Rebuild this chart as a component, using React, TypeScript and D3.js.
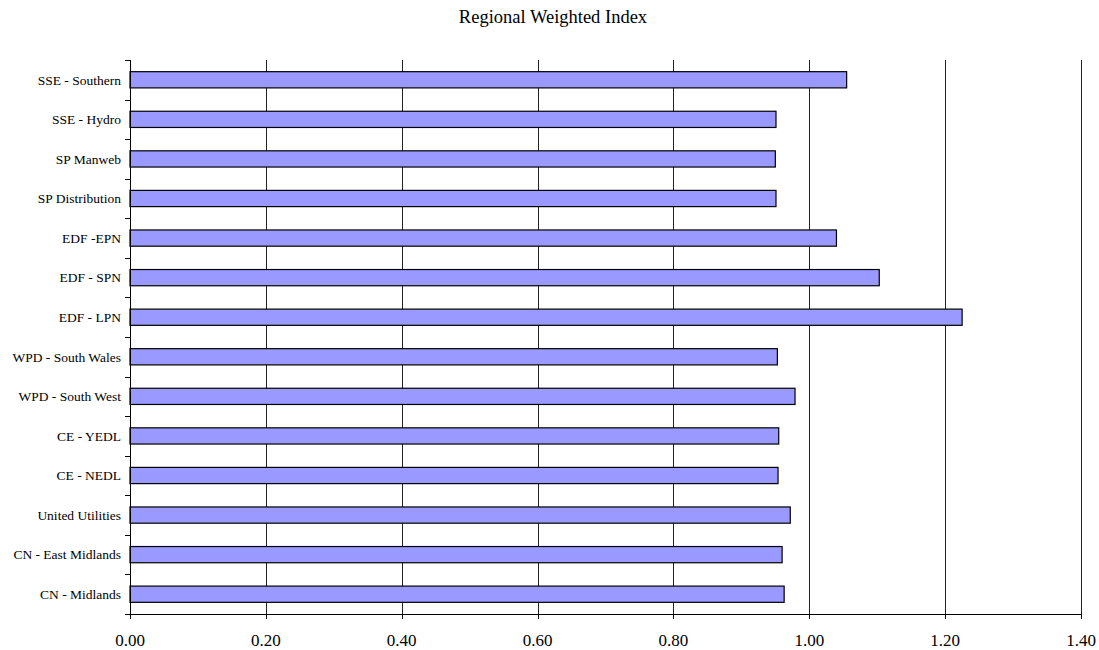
import React from "react";
import * as d3 from "d3";

const categories = [
  "SSE - Southern",
  "SSE - Hydro",
  "SP Manweb",
  "SP Distribution",
  "EDF -EPN",
  "EDF - SPN",
  "EDF - LPN",
  "WPD - South Wales",
  "WPD - South West",
  "CE - YEDL",
  "CE - NEDL",
  "United Utilities",
  "CN - East Midlands",
  "CN - Midlands",
];
const values = [1.055, 0.951, 0.95, 0.951, 1.04, 1.103, 1.225, 0.953, 0.979, 0.955, 0.954, 0.972, 0.96, 0.963];
const xTicks = [0, 0.2, 0.4, 0.6, 0.8, 1.0, 1.2, 1.4];
const title = "Regional Weighted Index";

export default function App() {
  const W = 1099, H = 650;
  const left = 130, right = 1081, top = 60, bottom = 614;
  const x = d3.scaleLinear().domain([0, 1.4]).range([left, right]);
  const y = d3.scaleBand().domain(categories).range([top, bottom]).paddingInner(0).paddingOuter(0);
  const bw = y.bandwidth();
  const barH = bw * 0.41;
  const font = "'Liberation Serif', 'DejaVu Serif', serif";
  const boundaries = d3.range(categories.length + 1).map((i) => top + i * bw);
  return (
    <svg width={W} height={H} style={{ position: "absolute", left: 0, top: 0, background: "#fff" }} fontFamily={font}>
      <text x={553} y={23} textAnchor="middle" fontSize={18.5} fill="#000">{title}</text>
      {xTicks.slice(1).map((t) => (
        <line key={"g" + t} x1={Math.round(x(t)) + 0.5} x2={Math.round(x(t)) + 0.5} y1={top} y2={bottom} stroke="#222" strokeWidth={1} />
      ))}
      {categories.map((c, i) => (
        <rect key={c} x={x(0)} y={(y(c) as number) + bw / 2 - barH / 2} width={x(values[i]) - x(0)} height={barH}
          fill="#9999FF" stroke="#000" strokeWidth={1.2} />
      ))}
      <line x1={left + 0.5} x2={left + 0.5} y1={top} y2={bottom + 5} stroke="#000" strokeWidth={1} />
      <line x1={left} x2={right + 0.5} y1={bottom + 0.5} y2={bottom + 0.5} stroke="#000" strokeWidth={1} />
      {boundaries.map((b, i) => (
        <line key={"yt" + i} x1={left - 5} x2={left} y1={Math.round(b) + 0.5} y2={Math.round(b) + 0.5} stroke="#000" />
      ))}
      {xTicks.map((t) => (
        <line key={"xt" + t} x1={Math.round(x(t)) + 0.5} x2={Math.round(x(t)) + 0.5} y1={bottom} y2={bottom + 5} stroke="#000" />
      ))}
      {categories.map((c) => (
        <text key={"l" + c} x={left - 9} y={(y(c) as number) + bw / 2} dy="0.35em" textAnchor="end" fontSize={13.5} fill="#000">{c}</text>
      ))}
      {xTicks.map((t) => (
        <text key={"xl" + t} x={x(t)} y={646} textAnchor="middle" fontSize={17} fill="#000">{t.toFixed(2)}</text>
      ))}
    </svg>
  );
}
